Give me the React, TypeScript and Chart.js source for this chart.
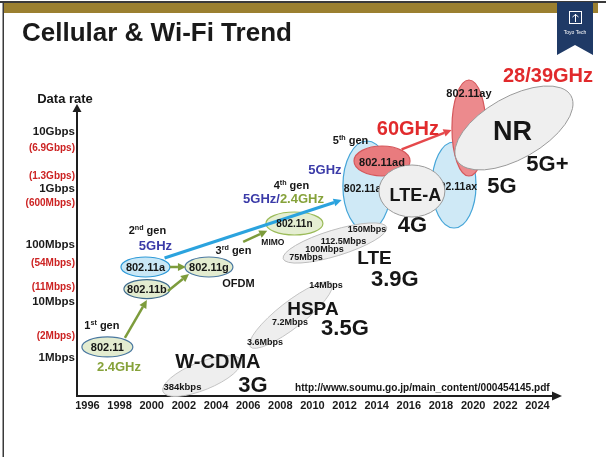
import React, { useEffect, useRef } from 'react';
import { Chart, registerables } from 'chart.js';
Chart.register(...registerables);

const FONT = '"Liberation Sans", Arial, sans-serif';

// ---- axis ticks ----
const yearTicks = [1996, 1998, 2000, 2002, 2004, 2006, 2008, 2010, 2012, 2014, 2016, 2018, 2020, 2022, 2024];
// rate ticks (Mbps); peak-rate labels sit where the picture places them
const rateTickValues = [1, 2.45, 10, 18.1, 48, 100, 554, 1000, 1664, 5210, 10000];
const rateTickLabels = ['1Mbps', '(2Mbps)', '10Mbps', '(11Mbps)', '(54Mbps)', '100Mbps', '(600Mbps)', '1Gbps', '(1.3Gbps)', '(6.9Gbps)', '10Gbps'];
const rateTickPeak = [false, true, false, true, true, false, true, false, true, true, false];

// ---- Wi-Fi standards (year, Mbps) ----
const wifiNames = ['802.11', '802.11b', '802.11a', '802.11g', '802.11n', '802.11ac', '802.11ad', '802.11ax', '802.11ay'];
const wifiYears = [1997.24, 1999.7, 1999.61, 2003.56, 2008.88, 2013.39, 2014.33, 2018.81, 2019.74];
const wifiRates = [1.57, 16.6, 40.8, 40.8, 240, 1107, 3068, 1153, 11770];

// ---- Cellular generations spanning (start year, rate) -> (end year, rate) ----
const cellNames = ['W-CDMA', 'HSPA', 'LTE', 'NR'];
const cellStartYears = [2000.7, 2006.13, 2008.18, 2018.99];
const cellStartRates = [0.253, 1.58, 57.0, 3170];
const cellEndYears = [2005.55, 2011.2, 2014.62, 2026.09];
const cellEndRates = [0.91, 21.1, 206.5, 43750];
// LTE-A
const lteaYear = 2016.19;
const lteaRate = 903;

// ---- evolution arrows ----
const arrowFromYears = [1998.33, 2001.01, 2001.13, 2005.69, 2000.8, 2015.55];
const arrowFromRates = [2.26, 15.3, 40.8, 114, 58.9, 4940];
const arrowToYears = [1999.7, 2002.32, 2002.13, 2007.19, 2011.82, 2018.66];
const arrowToRates = [10.6, 30.7, 40.8, 179, 626, 10850];

// ---- annotations ----
const hiddenLabelTexts = ['802.11ac', '802.11ax'];
const hiddenLabelYears = [2013.3, 2018.9];
const hiddenLabelRates = [1020, 1107];

const labelTexts = [
  '1^st gen', '2.4GHz', '2^nd gen', '5GHz', '802.11', '802.11b', '802.11a', '802.11g', '3^rd gen', 'OFDM', 'MIMO', '802.11n',
  '4^th gen', '5GHz/|2.4GHz', '5GHz', '5^th gen', '60GHz', '802.11ad', '802.11ay', '28/39GHz', 'NR', '5G+', '5G', 'LTE-A', '4G',
  '150Mbps', '112.5Mbps', '100Mbps', '75Mbps', 'LTE', '3.9G', '14Mbps', 'HSPA', '7.2Mbps', '3.5G', '3.6Mbps', 'W-CDMA', '3G', '384kbps',
];
const labelYears = [
  1996.9, 1997.96, 1999.73, 2000.23, 1997.24, 1999.7, 1999.61, 2003.56, 2005.09, 2005.4, 2007.54, 2008.88,
  2008.69, 2008.2, 2010.78, 2012.37, 2015.94, 2014.33, 2019.74, 2024.66, 2022.45, 2024.62, 2021.79, 2016.41, 2016.22,
  2013.39, 2011.93, 2010.75, 2009.6, 2013.86, 2015.13, 2010.84, 2010.03, 2008.6, 2012.02, 2007.05, 2004.12, 2006.3, 2001.91,
];
const labelRates = [
  3.84, 0.722, 184, 100, 1.57, 16.6, 40.8, 40.8, 81.6, 21.2, 113, 240,
  1153, 679, 2214, 7215, 11770, 2944, 49000, 102000, 10840, 2827, 1153, 767, 235,
  192, 118, 85.0, 61.3, 61.3, 26.1, 19.6, 7.67, 4.34, 3.54, 1.92, 0.885, 0.347, 0.307,
];
const sourceText = 'http://www.soumu.go.jp/main_content/000454145.pdf';
const sourceYear = 2016.84;
const sourceRate = 0.307;

// ---- styles (kept apart from the data) ----
const labelSizes = [
  11, 13, 11, 13, 11, 11, 11, 11, 11, 11, 8.5, 10,
  11, 13, 13, 11, 20, 11, 11, 20, 27, 22, 22, 18, 22,
  9, 9, 9, 9, 19, 22, 9, 19, 9, 22, 9, 20, 22, 9.5,
];
const labelColorKeys = [
  'dark', 'olive', 'dark', 'blue', 'dark', 'dark', 'dark', 'dark', 'dark', 'dark', 'dark', 'dark',
  'dark', 'blue|olive', 'blue', 'dark', 'red', 'dark', 'dark', 'red', 'dark', 'dark', 'dark', 'dark', 'dark',
  'dark', 'dark', 'dark', 'dark', 'dark', 'dark', 'dark', 'dark', 'dark', 'dark', 'dark', 'dark', 'dark', 'dark',
];
const COLORS: Record<string, string> = { dark: '#161616', blue: '#3b3ba8', olive: '#86a23a', red: '#e12a2c' };
const wifiRx = [25.5, 23, 24.5, 24, 28.5, 24, 28, 22, 17];
const wifiRy = [10, 9.5, 10, 10, 11.5, 45, 15, 43, 48];
const wifiFill = ['#e3ecd0', '#e3ecd0', '#c9e7f6', '#e3ecd0', '#e5eed2', '#cfe9f6', '#e97b7e', '#cfe9f6', '#ec8a8d'];
const wifiStroke = ['#4a78a0', '#3f6c8e', '#2e9ad8', '#4a78a0', '#9bbb59', '#45a5d8', '#d5575b', '#45a5d8', '#d5575b'];
const cellHalfWidth = [14, 13, 13, 31];
const cellFill = ['#eeeeee', '#eeeeee', '#eeeeee', '#efefef'];
const cellStroke = ['#c4c4c4', '#c4c4c4', '#bdbdbd', '#9a9a9a'];
const arrowColors = ['#7d9c3c', '#7d9c3c', '#7d9c3c', '#7d9c3c', '#2ba3de', '#e5484b'];
const arrowWidths = [2.5, 2.5, 2.5, 2.5, 3, 2.5];

function drawRich(ctx: CanvasRenderingContext2D, text: string, x: number, y: number, size: number, colorKey: string, weight = 'bold') {
  const parts = text.split('|');
  const keys = colorKey.split('|');
  const segs: { t: string; sup: boolean; color: string; w: number }[] = [];
  parts.forEach((p, pi) => {
    const color = COLORS[keys[Math.min(pi, keys.length - 1)]] || keys[0];
    const re = /\^(\S+)/g;
    let last = 0;
    let m: RegExpExecArray | null;
    while ((m = re.exec(p))) {
      if (m.index > last) segs.push({ t: p.slice(last, m.index), sup: false, color, w: 0 });
      segs.push({ t: m[1], sup: true, color, w: 0 });
      last = m.index + m[0].length;
    }
    if (last < p.length) segs.push({ t: p.slice(last), sup: false, color, w: 0 });
  });
  let total = 0;
  segs.forEach((s) => {
    ctx.font = `${weight} ${s.sup ? size * 0.65 : size}px ${FONT}`;
    s.w = ctx.measureText(s.t).width;
    total += s.w;
  });
  let cx = x - total / 2;
  const base = y + size * 0.358;
  ctx.textAlign = 'left';
  ctx.textBaseline = 'alphabetic';
  segs.forEach((s) => {
    ctx.font = `${weight} ${s.sup ? size * 0.65 : size}px ${FONT}`;
    ctx.fillStyle = s.color;
    ctx.fillText(s.t, cx, s.sup ? base - size * 0.4 : base);
    cx += s.w;
  });
}

function ellipse(ctx: CanvasRenderingContext2D, cx: number, cy: number, rx: number, ry: number, rot: number, fill: string, stroke: string, lw = 1.2) {
  ctx.beginPath();
  ctx.ellipse(cx, cy, rx, ry, rot, 0, Math.PI * 2);
  ctx.fillStyle = fill;
  ctx.fill();
  ctx.lineWidth = lw;
  ctx.strokeStyle = stroke;
  ctx.stroke();
}

function arrow(ctx: CanvasRenderingContext2D, x1: number, y1: number, x2: number, y2: number, color: string, lw: number) {
  const ang = Math.atan2(y2 - y1, x2 - x1);
  const hl = 8;
  const hw = 4;
  const bx = x2 - hl * Math.cos(ang);
  const by = y2 - hl * Math.sin(ang);
  ctx.strokeStyle = color;
  ctx.lineWidth = lw;
  ctx.beginPath();
  ctx.moveTo(x1, y1);
  ctx.lineTo(bx, by);
  ctx.stroke();
  ctx.fillStyle = color;
  ctx.beginPath();
  ctx.moveTo(x2, y2);
  ctx.lineTo(bx + hw * Math.sin(ang), by - hw * Math.cos(ang));
  ctx.lineTo(bx - hw * Math.sin(ang), by + hw * Math.cos(ang));
  ctx.closePath();
  ctx.fill();
}

const infographic = {
  id: 'infographic',
  afterDraw(chart: any) {
    const ctx: CanvasRenderingContext2D = chart.ctx;
    const xs = chart.scales.x;
    const ys = chart.scales.y;
    const ca = chart.chartArea;
    const px = (v: number) => xs.getPixelForValue(v);
    const py = (v: number) => ys.getPixelForValue(v);
    ctx.save();

    // frame and header
    ctx.fillStyle = '#3a3a3a';
    ctx.fillRect(0, 1, 606, 2);
    ctx.fillRect(2.5, 1, 1.5, 456);
    ctx.fillStyle = '#9b8030';
    ctx.fillRect(4, 3, 594, 10);
    // ribbon
    ctx.fillStyle = '#1f3a66';
    ctx.beginPath();
    ctx.moveTo(557, 2);
    ctx.lineTo(593, 2);
    ctx.lineTo(593, 55);
    ctx.lineTo(575, 45);
    ctx.lineTo(557, 55);
    ctx.closePath();
    ctx.fill();
    ctx.strokeStyle = '#ffffff';
    ctx.lineWidth = 1;
    ctx.strokeRect(569.5, 11.5, 12, 12);
    ctx.beginPath();
    ctx.moveTo(575.5, 14);
    ctx.lineTo(575.5, 22);
    ctx.moveTo(572.5, 17);
    ctx.lineTo(575.5, 14.5);
    ctx.lineTo(578.5, 17);
    ctx.stroke();
    ctx.fillStyle = '#ffffff';
    ctx.font = `5px ${FONT}`;
    ctx.textAlign = 'center';
    ctx.textBaseline = 'middle';
    ctx.fillText('Toyo Tech', 575, 33);

    // title
    ctx.fillStyle = '#1a1a1a';
    ctx.font = `bold 26px ${FONT}`;
    ctx.textAlign = 'left';
    ctx.textBaseline = 'alphabetic';
    ctx.fillText('Cellular & Wi-Fi Trend', 22, 41);

    // axis title and arrowheads
    drawRich(ctx, 'Data rate', ca.left - 12, ca.top - 12, 13, 'dark');
    ctx.fillStyle = '#1e1e1e';
    ctx.beginPath();
    ctx.moveTo(ca.left, ca.top - 6);
    ctx.lineTo(ca.left - 4.5, ca.top + 2);
    ctx.lineTo(ca.left + 4.5, ca.top + 2);
    ctx.closePath();
    ctx.fill();
    ctx.beginPath();
    ctx.moveTo(ca.right + 9, ca.bottom);
    ctx.lineTo(ca.right - 1, ca.bottom - 4.5);
    ctx.lineTo(ca.right - 1, ca.bottom + 4.5);
    ctx.closePath();
    ctx.fill();

    // layer 1: large Wi-Fi ellipses (ac, ax, ad, ay)
    [5, 7, 6, 8].forEach((i) => {
      ellipse(ctx, px(wifiYears[i]), py(wifiRates[i]), wifiRx[i], wifiRy[i], 0, wifiFill[i], wifiStroke[i]);
    });
    hiddenLabelTexts.forEach((t, i) => {
      drawRich(ctx, t, px(hiddenLabelYears[i]), py(hiddenLabelRates[i]), 10.5, 'dark');
    });
    // LTE-A
    ellipse(ctx, px(lteaYear), py(lteaRate), 33, 26, 0, '#efefef', '#9a9a9a', 1);
    // cellular spans (tilted ellipses)
    cellNames.forEach((_, i) => {
      const x1 = px(cellStartYears[i]);
      const y1 = py(cellStartRates[i]);
      const x2 = px(cellEndYears[i]);
      const y2 = py(cellEndRates[i]);
      const a = Math.hypot(x2 - x1, y2 - y1) / 2;
      ellipse(ctx, (x1 + x2) / 2, (y1 + y2) / 2, a, cellHalfWidth[i], Math.atan2(y2 - y1, x2 - x1), cellFill[i], cellStroke[i], 1);
    });
    // small Wi-Fi ellipses
    [0, 1, 2, 3, 4].forEach((i) => {
      ellipse(ctx, px(wifiYears[i]), py(wifiRates[i]), wifiRx[i], wifiRy[i], 0, wifiFill[i], wifiStroke[i]);
    });
    // arrows
    arrowFromYears.forEach((_, i) => {
      arrow(ctx, px(arrowFromYears[i]), py(arrowFromRates[i]), px(arrowToYears[i]), py(arrowToRates[i]), arrowColors[i], arrowWidths[i]);
    });
    // labels
    labelTexts.forEach((t, i) => {
      drawRich(ctx, t, px(labelYears[i]), py(labelRates[i]), labelSizes[i], labelColorKeys[i]);
    });
    // source
    ctx.font = `bold 10px ${FONT}`;
    const w10 = ctx.measureText(sourceText).width;
    const fs = (10 * 255) / w10;
    drawRich(ctx, sourceText, px(sourceYear), py(sourceRate), fs, 'dark');

    ctx.restore();
  },
};

export default function App() {
  const ref = useRef<HTMLCanvasElement>(null);
  useEffect(() => {
    const canvas = ref.current!;
    const chart = new Chart(canvas, {
      type: 'scatter',
      data: { datasets: [{ data: [] }] },
      options: {
        animation: false,
        responsive: false,
        devicePixelRatio: 1,
        layout: { padding: { left: 0, top: 110, right: 53, bottom: 0 } },
        plugins: { legend: { display: false }, tooltip: { enabled: false } },
        scales: {
          x: {
            type: 'linear',
            min: 1995.35,
            max: 2024.97,
            afterBuildTicks: (s: any) => {
              s.ticks = yearTicks.map((v) => ({ value: v }));
            },
            afterFit: (s: any) => {
              s.height = 61;
            },
            grid: { display: false, drawTicks: false },
            border: { color: '#1e1e1e', width: 2 },
            ticks: {
              autoSkip: false,
              maxRotation: 0,
              padding: 3,
              color: '#1a1a1a',
              font: { family: FONT, size: 11, weight: 'bold' },
              callback: (v: any) => String(v),
            },
          },
          y: {
            type: 'logarithmic',
            min: 0.2126,
            max: 24500,
            afterBuildTicks: (s: any) => {
              s.ticks = rateTickValues.map((v) => ({ value: v }));
            },
            afterFit: (s: any) => {
              s.width = 77;
            },
            grid: { display: false, drawTicks: false },
            border: { color: '#1e1e1e', width: 2 },
            ticks: {
              autoSkip: false,
              padding: 2,
              callback: (_v: any, i: number) => rateTickLabels[i],
              color: (c: any) => (rateTickPeak[c.index] ? '#cc2222' : '#1a1a1a'),
              font: (c: any) =>
                rateTickPeak[c.index]
                  ? { family: FONT, size: 10, weight: 'bold' }
                  : { family: FONT, size: 11.5, weight: 'bold' },
            },
          },
        },
      },
      plugins: [infographic],
    } as any);
    return () => chart.destroy();
  }, []);
  return (
    <div style={{ position: 'absolute', left: 0, top: 0, width: 606, height: 457, background: '#fff' }}>
      <canvas ref={ref} width={606} height={457} style={{ display: 'block' }} />
    </div>
  );
}
